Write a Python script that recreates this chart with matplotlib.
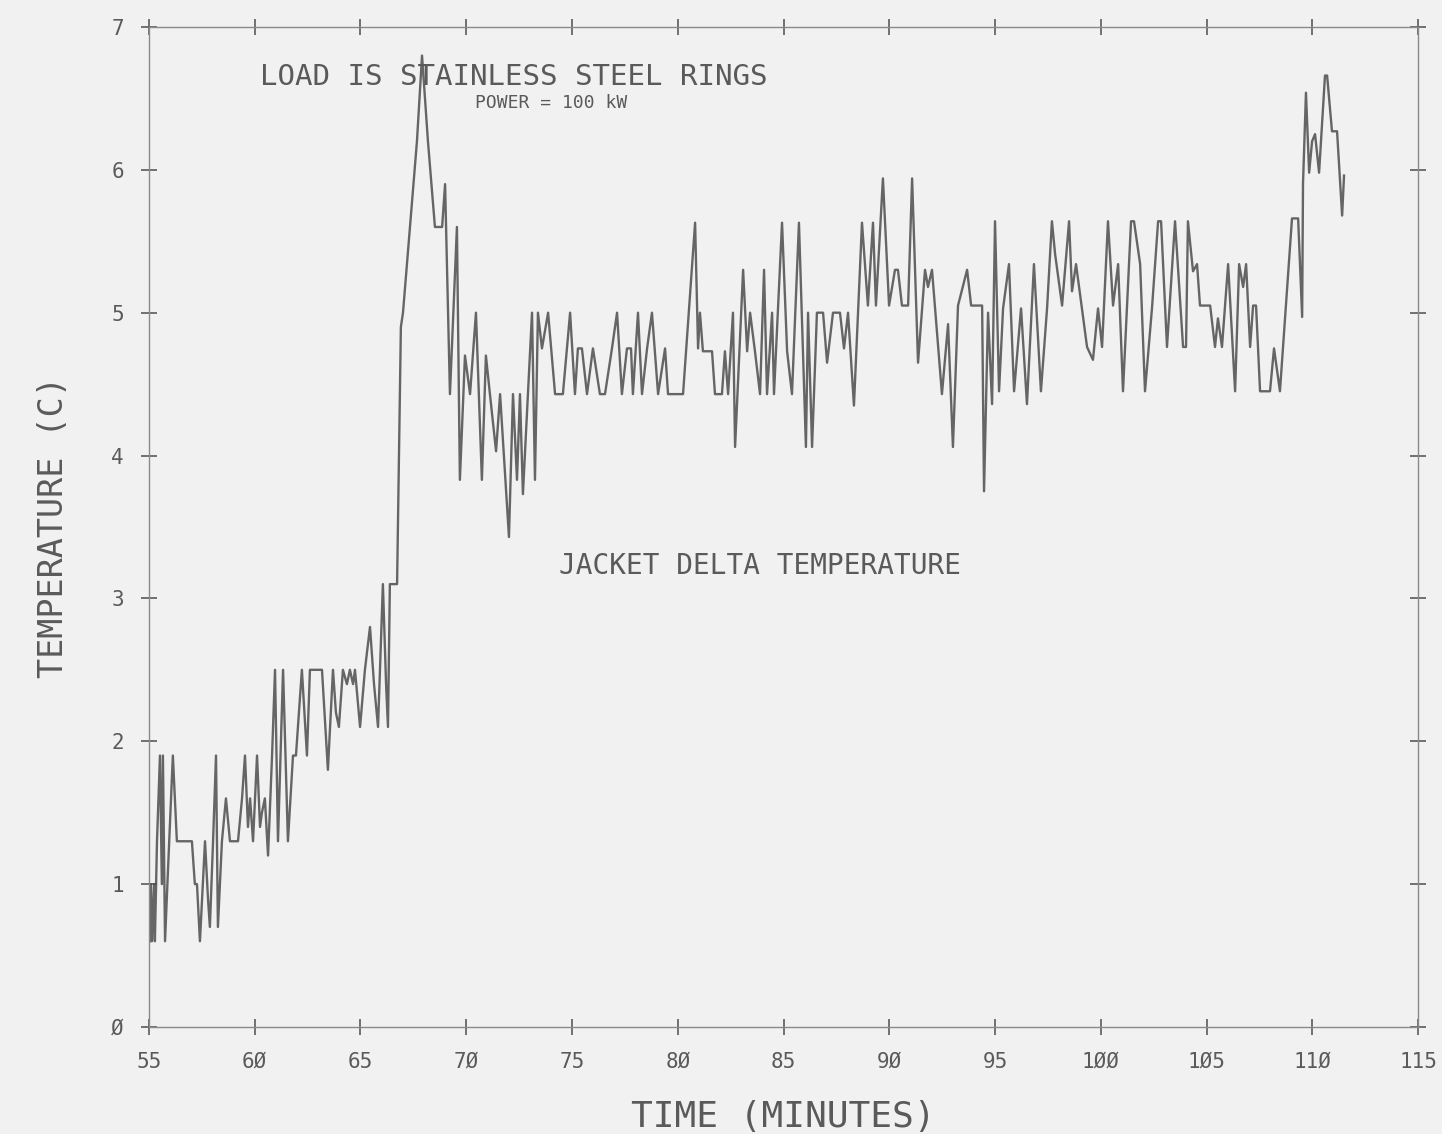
import matplotlib
matplotlib.use("Agg")
import matplotlib.pyplot as plt

# jacket delta temperature (minutes, deg C)
minutes = [
    55.05, 55.09, 55.14, 55.24, 55.28, 55.38, 55.52, 55.61, 55.66, 55.76,
    55.90, 56.13, 56.32, 57.03, 57.17, 57.27, 57.41, 57.65, 57.79, 57.88,
    58.03, 58.17, 58.26, 58.45, 58.64, 58.83, 59.21, 59.40, 59.54, 59.68,
    59.78, 59.92, 60.11, 60.25, 60.34, 60.48, 60.63, 60.82, 60.96, 61.10,
    61.34, 61.57, 61.81, 61.95, 62.23, 62.47, 62.61, 63.18, 63.46, 63.70,
    63.84, 63.98, 64.17, 64.36, 64.50, 64.65, 64.74, 64.98, 65.21, 65.45,
    65.64, 65.83, 66.06, 66.21, 66.30, 66.39, 66.73, 66.91, 67.01, 67.67,
    67.91, 68.19, 68.52, 68.86, 69.00, 69.23, 69.56, 69.70, 69.94, 70.18,
    70.46, 70.74, 70.93, 71.12, 71.41, 71.60, 72.02, 72.21, 72.40, 72.54,
    72.68, 73.11, 73.25, 73.39, 73.58, 73.87, 74.20, 74.57, 74.91, 75.14,
    75.28, 75.47, 75.71, 75.99, 76.32, 76.56, 76.89, 77.13, 77.36, 77.60,
    77.79, 77.88, 78.12, 78.31, 78.55, 78.78, 79.07, 79.40, 79.54, 80.25,
    80.82, 80.96, 81.05, 81.19, 81.62, 81.76, 82.09, 82.23, 82.38, 82.61,
    82.71, 83.09, 83.28, 83.42, 83.65, 83.89, 84.08, 84.22, 84.46, 84.55,
    84.93, 85.17, 85.40, 85.73, 86.06, 86.16, 86.35, 86.58, 86.87, 87.06,
    87.34, 87.67, 87.86, 88.05, 88.33, 88.71, 88.99, 89.23, 89.37, 89.70,
    89.99, 90.27, 90.41, 90.60, 90.89, 91.08, 91.36, 91.69, 91.83, 92.02,
    92.49, 92.78, 93.01, 93.25, 93.68, 93.87, 94.39, 94.48, 94.67, 94.86,
    95.00, 95.19, 95.38, 95.66, 95.90, 96.23, 96.51, 96.84, 97.17, 97.46,
    97.69, 97.84, 98.17, 98.50, 98.64, 98.83, 99.11, 99.35, 99.63, 99.87,
    100.06, 100.34, 100.58, 100.82, 101.05, 101.43, 101.57, 101.86, 102.09, 102.42,
    102.71, 102.85, 103.13, 103.51, 103.89, 104.03, 104.12, 104.36, 104.55, 104.69,
    105.17, 105.40, 105.54, 105.73, 106.02, 106.35, 106.54, 106.73, 106.87, 107.06,
    107.20, 107.34, 107.53, 108.00, 108.19, 108.47, 109.04, 109.33, 109.52, 109.56,
    109.70, 109.85, 109.99, 110.13, 110.32, 110.60, 110.70, 110.93, 111.17, 111.41,
    111.50,
]
delta_t = [
    0.6, 1.0, 0.6, 1.0, 0.6, 1.3, 1.9, 1.0, 1.9, 0.6,
    1.1, 1.9, 1.3, 1.3, 1.0, 1.0, 0.6, 1.3, 0.9, 0.7,
    1.3, 1.9, 0.7, 1.3, 1.6, 1.3, 1.3, 1.6, 1.9, 1.4,
    1.6, 1.3, 1.9, 1.4, 1.5, 1.6, 1.2, 1.9, 2.5, 1.3,
    2.5, 1.3, 1.9, 1.9, 2.5, 1.9, 2.5, 2.5, 1.8, 2.5,
    2.2, 2.1, 2.5, 2.4, 2.5, 2.4, 2.5, 2.1, 2.5, 2.8,
    2.4, 2.1, 3.1, 2.4, 2.1, 3.1, 3.1, 4.9, 5.0, 6.2,
    6.8, 6.2, 5.6, 5.6, 5.9, 4.43, 5.6, 3.83, 4.7, 4.43,
    5.0, 3.83, 4.7, 4.43, 4.03, 4.43, 3.43, 4.43, 3.83, 4.43,
    3.73, 5.0, 3.83, 5.0, 4.75, 5.0, 4.43, 4.43, 5.0, 4.43,
    4.75, 4.75, 4.43, 4.75, 4.43, 4.43, 4.75, 5.0, 4.43, 4.75,
    4.75, 4.43, 5.0, 4.43, 4.75, 5.0, 4.43, 4.75, 4.43, 4.43,
    5.63, 4.75, 5.0, 4.73, 4.73, 4.43, 4.43, 4.73, 4.43, 5.0,
    4.06, 5.3, 4.73, 5.0, 4.73, 4.43, 5.3, 4.43, 5.0, 4.43,
    5.63, 4.73, 4.43, 5.63, 4.06, 5.0, 4.06, 5.0, 5.0, 4.65,
    5.0, 5.0, 4.75, 5.0, 4.35, 5.63, 5.05, 5.63, 5.05, 5.94,
    5.05, 5.3, 5.3, 5.05, 5.05, 5.94, 4.65, 5.3, 5.18, 5.3,
    4.43, 4.92, 4.06, 5.05, 5.3, 5.05, 5.05, 3.75, 5.0, 4.36,
    5.64, 4.45, 5.03, 5.34, 4.45, 5.03, 4.36, 5.34, 4.45, 5.03,
    5.64, 5.41, 5.05, 5.64, 5.15, 5.34, 5.03, 4.76, 4.67, 5.03,
    4.76, 5.64, 5.05, 5.34, 4.45, 5.64, 5.64, 5.34, 4.45, 5.03,
    5.64, 5.64, 4.76, 5.64, 4.76, 4.76, 5.64, 5.29, 5.34, 5.05,
    5.05, 4.76, 4.96, 4.76, 5.34, 4.45, 5.34, 5.18, 5.34, 4.76,
    5.05, 5.05, 4.45, 4.45, 4.75, 4.45, 5.66, 5.66, 4.97, 5.9,
    6.54, 5.98, 6.2, 6.25, 5.98, 6.66, 6.66, 6.27, 6.27, 5.68,
    5.96,
]

x_ticks = [55, 60, 65, 70, 75, 80, 85, 90, 95, 100, 105, 110, 115]
x_labels = ["55", "6Ø", "65", "7Ø", "75", "8Ø", "85", "9Ø", "95", "1ØØ", "1Ø5", "11Ø", "115"]
y_ticks = [0, 1, 2, 3, 4, 5, 6, 7]
y_labels = ["Ø", "1", "2", "3", "4", "5", "6", "7"]

ink = "#5a5a5a"
paper = "#f1f1f1"
plt.rcParams["font.family"] = ["DejaVu Sans Mono"]

fig = plt.figure(figsize=(14.42, 11.34), dpi=100, facecolor=paper)
ax = fig.add_axes([0.1033, 0.0944, 0.8801, 0.8818], facecolor=paper)

ax.plot(minutes, delta_t, color="#4d4d4d", lw=1.7, alpha=0.85)

ax.set_xlim(55, 115)
ax.set_ylim(0, 7)
ax.set_xticks(x_ticks)
ax.set_xticklabels(x_labels)
ax.set_yticks(y_ticks)
ax.set_yticklabels(y_labels)
ax.tick_params(direction="inout", length=12, width=1.2, color=ink, labelcolor=ink,
               labelsize=15, top=True, right=True, pad=12)
for side in ax.spines.values():
    side.set_color("#8a8a8a")
    side.set_linewidth(1.0)

ax.set_xlabel("TIME (MINUTES)", fontsize=26, color=ink, labelpad=20)
ax.set_ylabel("TEMPERATURE (C)", fontsize=24, color=ink, labelpad=30)

ax.text(60.25, 6.65, "LOAD IS STAINLESS STEEL RINGS", fontsize=21, color=ink, va="center")
ax.text(70.4, 6.47, "POWER = 100 kW", fontsize=13, color=ink, va="center")
ax.text(74.4, 3.23, "JACKET DELTA TEMPERATURE", fontsize=20, color=ink, va="center")

fig.savefig("out.png", dpi=100, facecolor=paper)
